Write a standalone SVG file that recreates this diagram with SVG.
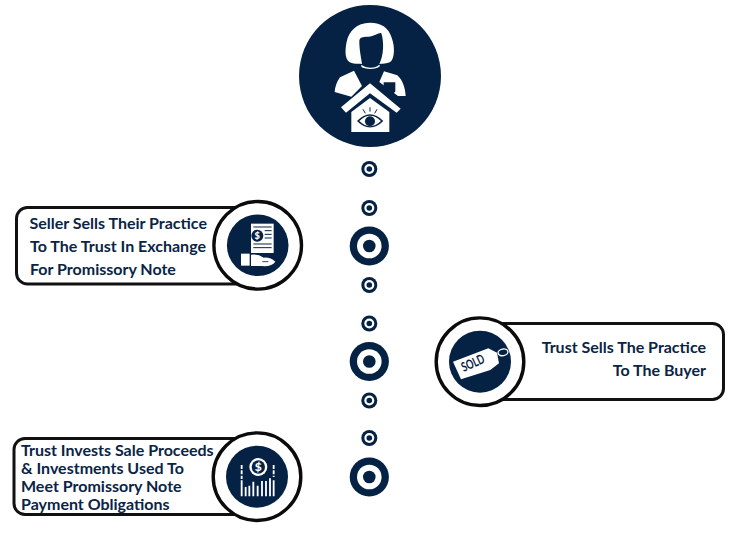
<svg xmlns="http://www.w3.org/2000/svg" width="745" height="533" viewBox="0 0 745 533">
<style>
.t{font-family:"Lato","Liberation Sans",sans-serif;font-weight:700;font-size:16px;fill:#0a2445}
.box{fill:#fff;stroke:#111;stroke-width:3}
.ring{fill:#fff;stroke:#0b0b0b;stroke-width:3.4}
.navy{fill:#052244}
.w{fill:#fff}
.wl{fill:none;stroke:#fff}
.nl{fill:none;stroke:#052244}
.d{font-family:"Lato","Liberation Sans",sans-serif;font-weight:900;text-anchor:middle}
</style>
<defs>
<g id="sm"><circle r="8" class="navy"/><circle r="5" class="w"/><circle r="2.8" class="navy"/></g>
<g id="lg"><circle r="19.6" class="navy"/><circle r="12.3" class="w"/><circle r="6.3" class="navy"/></g>
</defs>
<rect width="745" height="533" fill="#fff"/>
<g id="connectors">
<use href="#sm" x="369.3" y="169"/>
<use href="#sm" x="369.3" y="208"/>
<use href="#lg" x="369.3" y="246"/>
<use href="#sm" x="369.3" y="285"/>
<use href="#sm" x="369.3" y="323.5"/>
<use href="#lg" x="369.3" y="361.5"/>
<use href="#sm" x="369.3" y="400.5"/>
<use href="#sm" x="369.3" y="438"/>
<use href="#lg" x="369.3" y="477"/>
</g>
<g id="node-top">
<circle cx="370" cy="76" r="71" class="navy"/>
<g transform="translate(290,0) scale(.3333)">
<path class="w" d="M240 68C200 68 176 95 170 125C165 150 164 175 178 186C192 194 205 190 216 192C214 175 208 150 208 125C208 112 215 110 235 110C255 108 270 95 274 100C282 125 282 165 268 192C280 190 300 192 306 180C316 160 312 130 304 110C296 85 275 68 240 68Z"/>
<path class="w" d="M214 200C222 207 255 212 270 198L268 194C255 207 228 205 214 194Z"/>
<path class="w" d="M192 212L150 232C140 245 135 262 134 276L184 290L216 258ZM282 214L322 226C338 240 346 265 347 288L324 288L268 246Z"/>
<path class="navy" d="M281 247H316V275L308 282H290L281 272Z"/>
<path class="w" d="M240 250L332 326L320 338L240 280L168 338L153 322Z"/>
<path class="w" d="M240 294L298 336V396H184V336Z"/>
<path class="navy" d="M201 363Q240 322 280 363Q240 402 201 363Z"/>
<path class="w" d="M208 363Q240 332 273 363Q240 394 208 363Z"/>
<circle cx="240" cy="364" r="15" class="navy"/>
<path class="nl" stroke-width="3" d="M226 340L219 328M240 335V322M254 340L261 328"/>
</g>
</g>
<g id="node-seller">
<rect x="16.500" y="207.500" width="240" height="76.500" rx="11" class="box"/>
<circle cx="257.700" cy="245.300" r="43.800" class="ring"/>
<circle cx="257.700" cy="245.300" r="30.800" class="navy"/>
<g transform="translate(215,205) scale(.3333)">
<rect x="108" y="56" width="68" height="88" class="w"/>
<circle cx="127" cy="92" r="18" class="navy"/>
<text class="d" x="127" y="102" font-size="28" fill="#fff">$</text>
<path class="nl" stroke-width="3" d="M115 66H170M149 77H170M149 88H170M149 99H170M115 117H170M115 128H170"/>
<rect x="78" y="146" width="26" height="36" class="w"/>
<path class="w" d="M108 149Q130 146 146 158Q166 156 181 170Q170 186 140 183H108Z"/>
<path class="nl" stroke-width="2.500" d="M142 170H160"/>
</g>
<text class="t" x="29.500" y="229">Seller Sells Their Practice</text>
<text class="t" x="30" y="252">To The Trust In Exchange</text>
<text class="t" x="30" y="275">For Promissory Note</text>
</g>
<g id="node-trust">
<rect x="480" y="323.500" width="243.500" height="76" rx="11" class="box"/>
<circle cx="480" cy="361.700" r="43.800" class="ring"/>
<circle cx="480" cy="361.700" r="31" class="navy"/>
<g transform="translate(435,320) scale(.3333)">
<path class="w" d="M54 125L160 85L186 98L192 130L166 150L78 178Z"/>
<ellipse cx="204" cy="97" rx="15" ry="10" transform="rotate(-10 204 97)" class="wl" stroke-width="4"/>
<text transform="translate(86,156) rotate(-24) scale(3)" font-family="Lato,'Liberation Sans',sans-serif" font-weight="700" font-size="13" fill="#052244" textLength="24" lengthAdjust="spacingAndGlyphs">SOLD</text>
</g>
<text class="t" x="706" y="353" text-anchor="end">Trust Sells The Practice</text>
<text class="t" x="706" y="376" text-anchor="end">To The Buyer</text>
</g>
<g id="node-invest">
<rect x="14" y="438.500" width="240" height="76" rx="11" class="box"/>
<circle cx="257" cy="476.700" r="43.800" class="ring"/>
<circle cx="257" cy="476.700" r="31" class="navy"/>
<g transform="translate(215,435) scale(.3333)">
<circle cx="130" cy="96" r="27" class="w"/>
<circle cx="130" cy="96" r="20" class="navy"/>
<text class="d" x="130" y="109" font-size="36" fill="#fff">$</text>
<path class="wl" stroke-width="5.500" d="M80 136V184M92 156V184M103 152V184M115 140V184M128 152V184M141 138V184M153 138V184M165 130V184M176 136V184"/>
<path class="wl" stroke-width="5.500" stroke-dasharray="12 4" d="M80 90V132M176 90V126"/>
</g>
<text class="t" x="21" y="456">Trust Invests Sale Proceeds</text>
<text class="t" x="21" y="474">&amp; Investments Used To</text>
<text class="t" x="21" y="492">Meet Promissory Note</text>
<text class="t" x="21" y="510">Payment Obligations</text>
</g>
</svg>
